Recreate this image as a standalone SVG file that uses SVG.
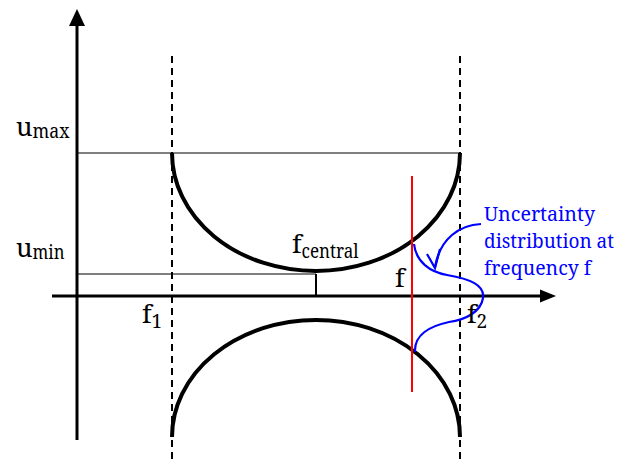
<svg xmlns="http://www.w3.org/2000/svg" width="620" height="464" viewBox="0 0 620 464">
<style>
text{font-family:'Noto Serif','DejaVu Serif',serif}
.m{font-size:26px;fill:#000}
.s{font-size:19px}
.b{font-size:20px;fill:#0000ff}
.axis{stroke:#000;stroke-width:3;fill:none}
.thin{stroke:#000;stroke-width:1.2;fill:none}
.dash{stroke:#000;stroke-width:2;stroke-dasharray:7,5;fill:none}
.curve{stroke:#000;stroke-width:4;fill:none}
.blue{stroke:#0000ff;stroke-width:2.2;fill:none}
</style>
<rect width="620" height="464" fill="#fff"/>
<g id="connectors">
<line class="axis" x1="77" y1="440" x2="77" y2="22"/>
<polygon points="77,9 69,26 85,26" fill="#000"/>
<line class="axis" x1="52" y1="296" x2="542" y2="296"/>
<polygon points="556,296 540,289.5 540,302.5" fill="#000"/>
<line class="dash" x1="172" y1="56" x2="172" y2="464"/>
<line class="dash" x1="460" y1="56" x2="460" y2="464"/>
<line class="thin" x1="77" y1="153" x2="460" y2="153"/>
<line class="thin" x1="77" y1="274" x2="316" y2="274"/>
<line stroke="#000" stroke-width="2" x1="316" y1="274" x2="316" y2="296"/>
</g>
<g id="upper-curve">
<path class="curve" d="M172,153 A144,118 0 0 0 460,153"/>
</g>
<g id="lower-curve">
<path class="curve" d="M172,437 A144,117 0 0 1 460,437"/>
</g>
<g id="red-line">
<line stroke="#ff0000" stroke-width="2" x1="412" y1="176" x2="412" y2="392"/>
</g>
<g id="distribution">
<path class="blue" d="M414,244 C416,262 430,272 447,275 C470,279 485,285 483,298 C481,312 465,320 449,322 C430,326 414,335 415,352"/>
<path class="blue" d="M481,224 C460,225 440,238 435,267"/>
<polyline class="blue" points="427,254 435,268 440,249"/>
</g>
<g id="labels">
<text class="m" x="16" y="136">u<tspan class="s" dy="2" textLength="37" lengthAdjust="spacingAndGlyphs">max</tspan></text>
<text class="m" x="16" y="257">u<tspan class="s" dy="2" textLength="32" lengthAdjust="spacingAndGlyphs">min</tspan></text>
<text class="m" x="292" y="253">f<tspan class="s" dy="5" textLength="57" lengthAdjust="spacingAndGlyphs">central</tspan></text>
<text class="m" x="142" y="323">f<tspan class="s" dy="5">1</tspan></text>
<text class="m" x="467" y="323">f<tspan class="s" dy="5">2</tspan></text>
<text class="m" x="395" y="287">f</text>
<text class="b" x="484" y="221" textLength="111" lengthAdjust="spacingAndGlyphs">Uncertainty</text>
<text class="b" x="484" y="248" textLength="130" lengthAdjust="spacingAndGlyphs">distribution at</text>
<text class="b" x="484" y="275" textLength="107" lengthAdjust="spacingAndGlyphs">frequency f</text>
</g>
</svg>
